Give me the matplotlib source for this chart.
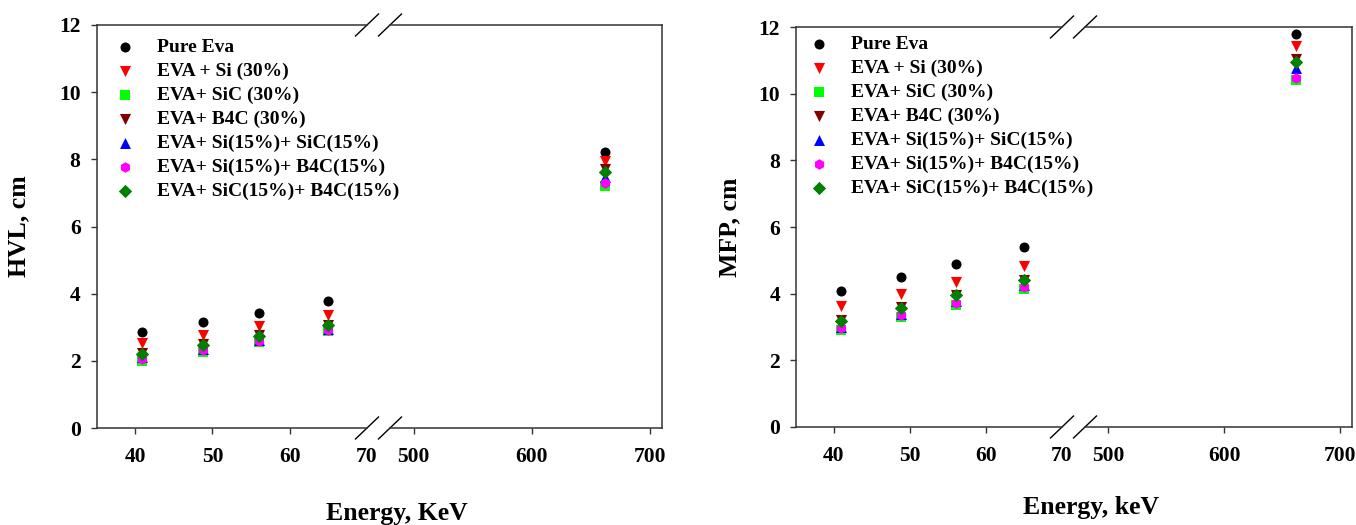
import numpy as np
import matplotlib
matplotlib.use("Agg")
import matplotlib.pyplot as plt

plt.rcParams['font.family'] = ['Liberation Serif', 'DejaVu Serif']
plt.rcParams['font.weight'] = 'bold'

# Energies (keV)
energy_low = [40.9, 48.8, 56.0, 65.0]
energy_high = [662]

labels = ["Pure Eva", "EVA + Si (30%)", "EVA+ SiC (30%)", "EVA+ B4C (30%)",
          "EVA+ Si(15%)+ SiC(15%)", "EVA+ Si(15%)+ B4C(15%)", "EVA+ SiC(15%)+ B4C(15%)"]
markers = ['o', 'v', 's', 'v', '^', 'h', 'D']
colors = ['#000000', '#ff0000', '#00ff00', '#800000', '#0000ff', '#ff00ff', '#008000']
sizes = [52, 64, 44, 64, 62, 58, 46]

# HVL, cm  (4 low energies + 662 keV)
hvl_pure = [2.85, 3.15, 3.41, 3.77, 8.21]
hvl_si = [2.53, 2.76, 3.04, 3.35, 7.94]
hvl_sic = [2.00, 2.27, 2.55, 2.88, 7.20]
hvl_b4c = [2.22, 2.49, 2.76, 3.07, 7.72]
hvl_si_sic = [2.10, 2.36, 2.63, 2.95, 7.47]
hvl_si_b4c = [2.06, 2.33, 2.60, 2.93, 7.29]
hvl_sic_b4c = [2.21, 2.48, 2.75, 3.06, 7.62]

# MFP, cm
mfp_pure = [4.08, 4.51, 4.89, 5.41, 11.79]
mfp_si = [3.62, 4.00, 4.36, 4.82, 11.42]
mfp_sic = [2.90, 3.30, 3.67, 4.15, 10.40]
mfp_b4c = [3.20, 3.59, 3.96, 4.41, 11.05]
mfp_si_sic = [3.00, 3.40, 3.77, 4.25, 10.76]
mfp_si_b4c = [2.97, 3.37, 3.73, 4.20, 10.46]
mfp_sic_b4c = [3.19, 3.58, 3.95, 4.40, 10.94]

hvl = [hvl_pure, hvl_si, hvl_sic, hvl_b4c, hvl_si_sic, hvl_si_b4c, hvl_sic_b4c]
mfp = [mfp_pure, mfp_si, mfp_sic, mfp_b4c, mfp_si_sic, mfp_si_b4c, mfp_sic_b4c]

W, H = 1356, 525
fig = plt.figure(figsize=(W / 100, H / 100), dpi=100)

spine_col = '#333333'


def px(x0, x1, y0, y1):
    # pixel box -> figure fraction rect
    return [x0 / W, 1 - y1 / H, (x1 - x0) / W, (y1 - y0) / H]


def make_panel(box_left, box_right, ytop, ybot, data, ylabel, xlabel, ylab_x, xlab_x, xlab_y, leg_xy):
    ax1 = fig.add_axes(px(box_left[0], box_left[1], ytop, ybot))
    ax2 = fig.add_axes(px(box_right[0], box_right[1], ytop, ybot), sharey=ax1)
    ax2.patch.set_visible(False)
    handles = []
    for vals, lab, m, c, s in zip(data, labels, markers, colors, sizes):
        h = ax1.scatter(energy_low, vals[:4], marker=m, s=s, color=c, linewidths=0, label=lab, zorder=3)
        ax2.scatter(energy_high, vals[4:], marker=m, s=s, color=c, linewidths=0, zorder=3)
        handles.append(h)

    ax1.set_xlim(35, 70)
    ax2.set_xlim(480, 710)
    ax1.set_ylim(0, 12)
    ax1.set_yticks(np.arange(0, 13, 2))
    ax1.set_xticks([40, 50, 60, 70])
    ax2.set_xticks([500, 600, 700])

    for ax in (ax1, ax2):
        for sp in ax.spines.values():
            sp.set_color(spine_col)
            sp.set_linewidth(1.1)
        ax.tick_params(direction='out', length=4.5, width=1.0, color=spine_col,
                       labelsize=15.5, pad=9)
        for t in ax.get_xticklabels() + ax.get_yticklabels():
            t.set_fontweight('bold')
    ax1.spines['right'].set_visible(False)
    ax2.spines['left'].set_visible(False)
    ax2.tick_params(axis='y', left=False, labelleft=False)
    ax1.tick_params(axis='y', pad=7)
    ax1.xaxis.get_major_ticks()[-1].tick1line.set_visible(False)

    # break marks
    for ax, xe in ((ax1, 1.0), (ax2, 0.0)):
        bb = ax.get_position()
        dx = 11.5 / (bb.width * W)
        dy = 11 / (bb.height * H)
        for ye in (0.0, 1.0):
            ax.plot([xe - dx, xe + dx], [ye - dy, ye + dy], transform=ax.transAxes,
                    color='black', lw=1.0, clip_on=False)

    fig.text(ylab_x / W, 1 - (ytop + ybot) / 2 / H, ylabel, rotation=90, ha='center', va='center',
             fontsize=18.5, fontweight='bold')
    fig.text(xlab_x / W, 1 - xlab_y / H, xlabel, ha='center', va='baseline',
             fontsize=18.5, fontweight='bold')

    fig.legend(handles=handles, loc='upper left', bbox_to_anchor=(leg_xy[0] / W, 1 - leg_xy[1] / H),
               bbox_transform=fig.transFigure, frameon=False, borderpad=0,
               borderaxespad=0, handlelength=1.0, handletextpad=1.15, labelspacing=0.33,
               prop={'weight': 'bold', 'size': 14})


make_panel((96.5, 367), (390, 662), 25, 428, hvl, "HVL, cm", "Energy, KeV", 19, 397, 520, (115, 38))
make_panel((796, 1062), (1085, 1352), 27, 427, mfp, "MFP, cm", "Energy, keV", 730, 1091, 514, (809, 35))

fig.savefig("out.png", dpi=100)
